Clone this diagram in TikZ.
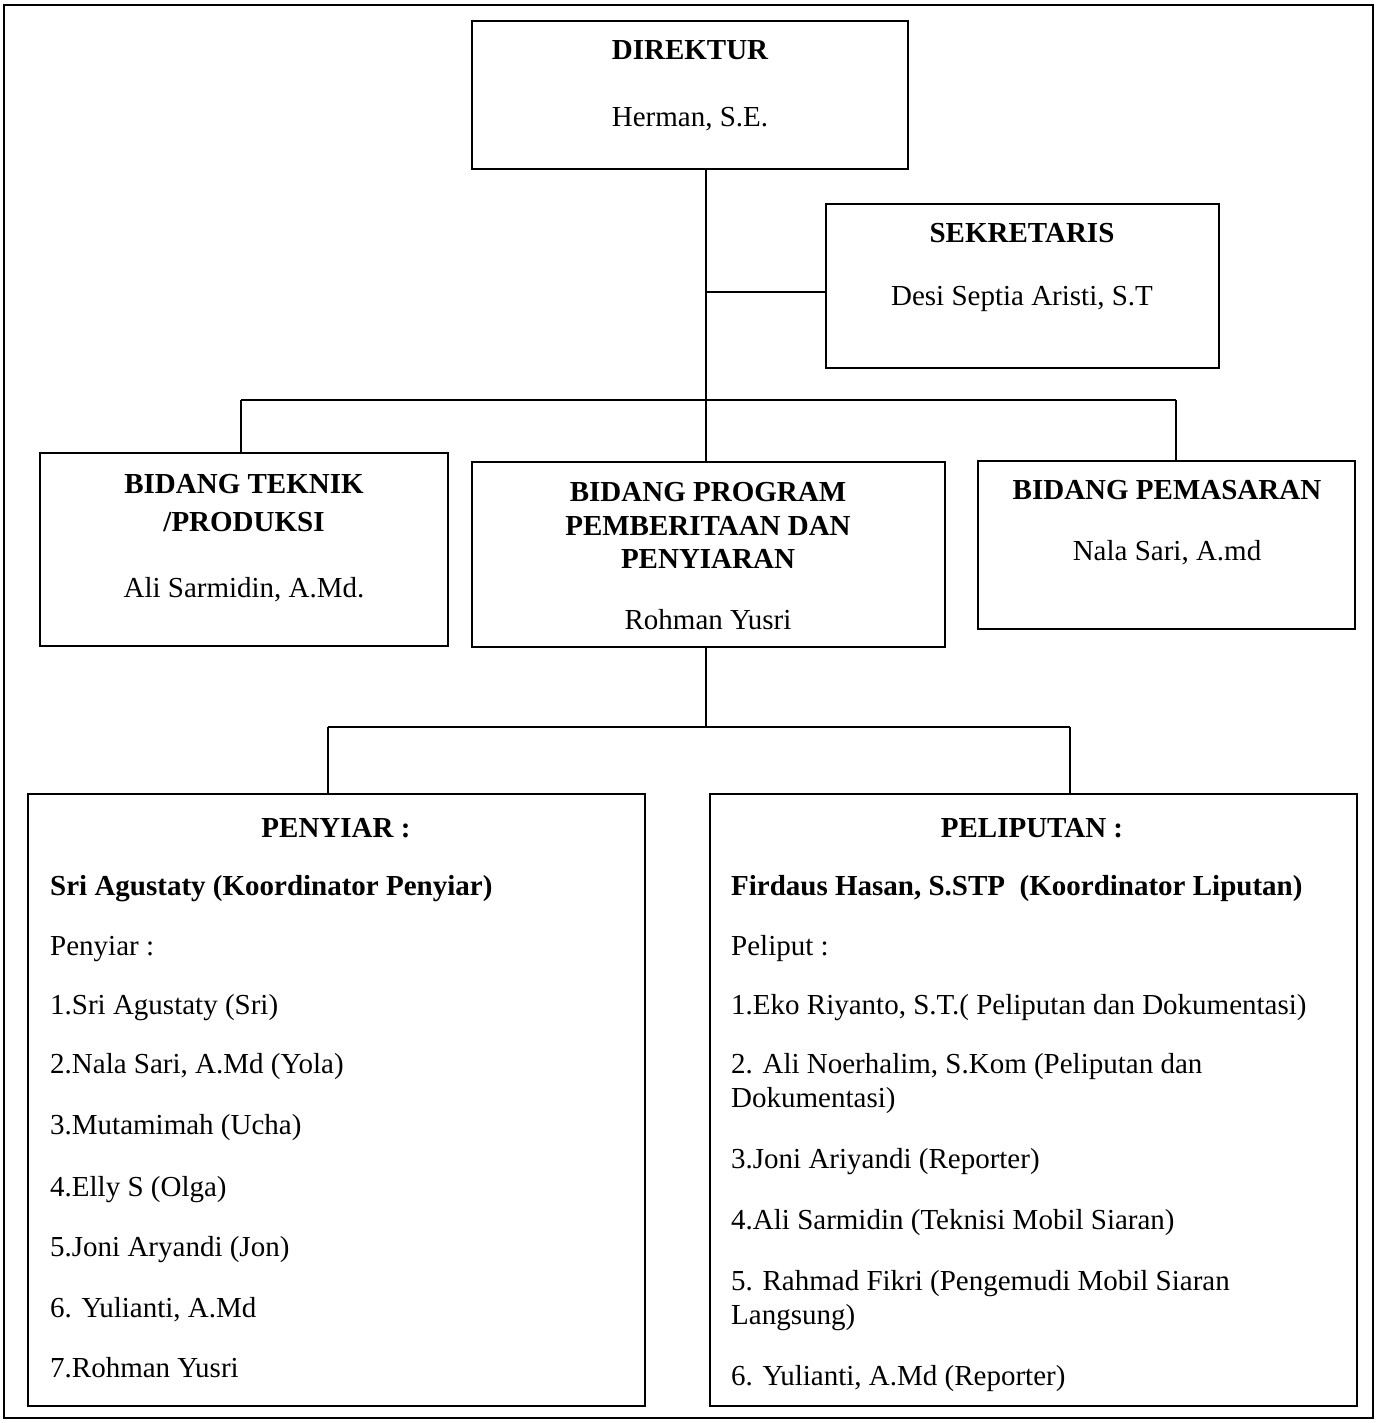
\documentclass[tikz,border=0pt]{standalone}
\usepackage{fontspec}
\setmainfont{Liberation Serif}
\begin{document}
\begin{tikzpicture}[x=1pt,y=-1pt,
  box/.style={draw,line width=1.6pt,rectangle,inner sep=0pt},
  conn/.style={line width=1.6pt},
  txt/.style={font=\fontsize{29}{33}\selectfont,inner sep=0pt,anchor=base},
  btxt/.style={txt,font=\fontsize{29}{33}\selectfont\bfseries},
  ltxt/.style={txt,anchor=base west}]
\useasboundingbox (0,0) rectangle (1377,1423);
\draw[line width=1.6pt] (4,5) rectangle (1373,1418);
% boxes
\node[box,minimum width=436pt,minimum height=148pt] (dir) at (690,95) {};
\node[box,minimum width=393pt,minimum height=164pt] (sek) at (1022.5,286) {};
\node[box,minimum width=408pt,minimum height=193pt] (tek) at (244,549.5) {};
\node[box,minimum width=473pt,minimum height=185pt] (prog) at (708.5,554.5) {};
\node[box,minimum width=377pt,minimum height=168pt] (pem) at (1166.5,545) {};
\node[box,minimum width=617pt,minimum height=612pt] (pen) at (336.5,1100) {};
\node[box,minimum width=647pt,minimum height=612pt] (pel) at (1033.5,1100) {};
% connectors
\coordinate (j1) at (706,292);
\coordinate (bus1) at (706,400);
\coordinate (bl) at (241,400);
\coordinate (br) at (1176,400);
\coordinate (bus2) at (706,727);
\coordinate (b2l) at (328,727);
\coordinate (b2r) at (1070,727);
\draw[conn] (dir.south -| bus1) -- (bus1);
\draw[conn] (j1) -- (sek.west |- j1);
\draw[conn] (bl) -- (br);
\draw[conn] (bl) -- (bl |- tek.north);
\draw[conn] (bus1) -- (bus1 |- prog.north);
\draw[conn] (br) -- (br |- pem.north);
\draw[conn] (prog.south -| bus2) -- (bus2);
\draw[conn] (b2l) -- (b2r);
\draw[conn] (b2l) -- (b2l |- pen.north);
\draw[conn] (b2r) -- (b2r |- pel.north);
% texts
\node[btxt] (t1) at (690,60) {DIREKTUR};
\node[txt] (t2) at (690,127) {Herman, S.E.};
\node[btxt] (t3) at (1022,243) {SEKRETARIS};
\node[txt] (t4) at (1022,305) {Desi Septia Aristi, S.T};
\node[btxt] (t5) at (244,493) {BIDANG TEKNIK};
\node[btxt] (t6) at (244,531) {/PRODUKSI};
\node[txt] (t7) at (244,597) {Ali Sarmidin, A.Md.};
\node[btxt] (t8) at (708,501) {BIDANG PROGRAM};
\node[btxt] (t9) at (708,535) {PEMBERITAAN DAN};
\node[btxt] (t10) at (708,568) {PENYIARAN};
\node[txt] (t11) at (708,629) {Rohman Yusri};
\node[btxt] (t12) at (1167,499) {BIDANG PEMASARAN};
\node[txt] (t13) at (1167,560) {Nala Sari, A.md};
% penyiar
\node[btxt] (p0) at (336,837) {PENYIAR :};
\node[ltxt,font=\fontsize{29}{33}\selectfont\bfseries] (p1) at (50,895) {Sri Agustaty (Koordinator Penyiar)};
\node[ltxt] (p2) at (50,955) {Penyiar :};
\node[ltxt] (p3) at (50,1014) {1.Sri Agustaty (Sri)};
\node[ltxt] (p4) at (50,1073) {2.Nala Sari, A.Md (Yola)};
\node[ltxt] (p5) at (50,1134) {3.Mutamimah (Ucha)};
\node[ltxt] (p6) at (50,1196) {4.Elly S (Olga)};
\node[ltxt] (p7) at (50,1256) {5.Joni Aryandi (Jon)};
\node[ltxt] (p8) at (50,1317) {6. Yulianti, A.Md};
\node[ltxt] (p9) at (50,1377) {7.Rohman Yusri};
% peliputan
\node[btxt] (q0) at (1032,837) {PELIPUTAN :};
\node[ltxt,font=\fontsize{29}{33}\selectfont\bfseries] (q1) at (731,895) {Firdaus Hasan, S.STP\ \ (Koordinator Liputan)};
\node[ltxt] (q2) at (731,955) {Peliput :};
\node[ltxt] (q3) at (731,1014) {1.Eko Riyanto, S.T.( Peliputan dan Dokumentasi)};
\node[ltxt] (q4) at (731,1073) {2. Ali Noerhalim, S.Kom (Peliputan dan};
\node[ltxt] (q5) at (731,1107) {Dokumentasi)};
\node[ltxt] (q6) at (731,1168) {3.Joni Ariyandi (Reporter)};
\node[ltxt] (q7) at (731,1229) {4.Ali Sarmidin (Teknisi Mobil Siaran)};
\node[ltxt] (q8) at (731,1290) {5. Rahmad Fikri (Pengemudi Mobil Siaran};
\node[ltxt] (q9) at (731,1324) {Langsung)};
\node[ltxt] (q10) at (731,1385) {6. Yulianti, A.Md (Reporter)};
\end{tikzpicture}
\end{document}
